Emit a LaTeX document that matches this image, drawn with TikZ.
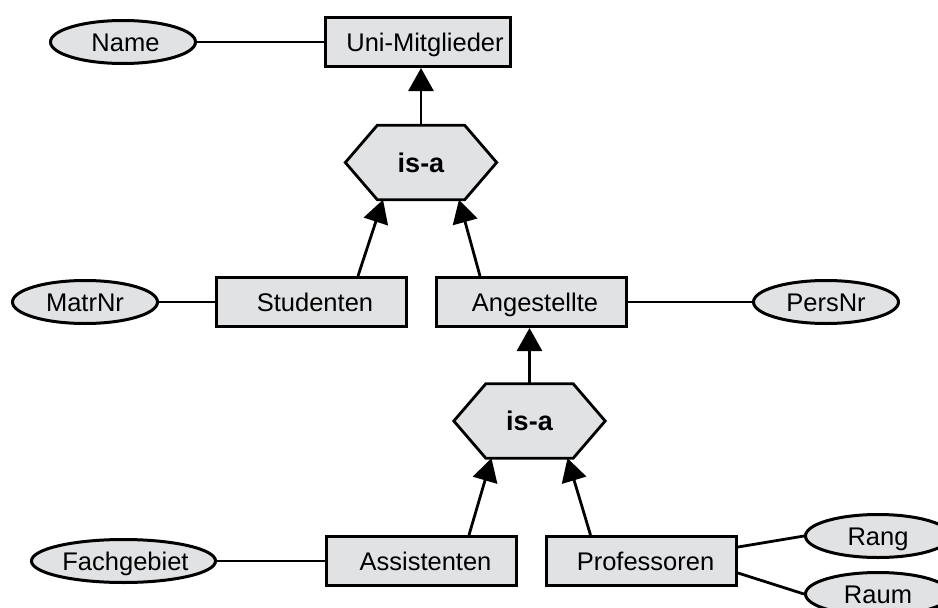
\documentclass[tikz,border=0pt]{standalone}
\usepackage{fontspec}
\setmainfont{Liberation Sans}
\usetikzlibrary{shapes.geometric,arrows.meta}
\pgfdeclarelayer{background}
\pgfsetlayers{background,main}
\definecolor{boxgray}{RGB}{225,226,228}
\tikzset{
  labelfont/.style={font=\fontsize{25.5}{30}\selectfont, text height=18.3pt, text depth=0pt},
  entity/.style={draw, fill=boxgray, line width=3pt, minimum width=190pt,
    minimum height=49pt, inner sep=0pt, labelfont},
  attr/.style={ellipse, draw, fill=boxgray, line width=3pt,
    minimum width=145pt, minimum height=43pt, inner sep=0pt, labelfont},
  isa/.style={minimum width=151pt, minimum height=74pt, inner sep=0pt,
    font=\bfseries\fontsize{27}{32}\selectfont, text height=19.4pt, text depth=0pt},
  hexline/.style={draw, fill=boxgray, line width=2.8pt, line join=miter},
  link/.style={line width=2.8pt},
  gen/.style={line width=2.8pt, -{Triangle[length=23pt,width=25pt]}},
}
% hexagonal outline behind an is-a node
\newcommand\isahex[1]{%
  \begin{pgfonlayer}{background}
    \path[hexline] ([xshift=32pt]#1.north west) -- ([xshift=-32pt]#1.north east)
      -- (#1.east) -- ([xshift=-32pt]#1.south east)
      -- ([xshift=32pt]#1.south west) -- (#1.west) -- cycle;
  \end{pgfonlayer}}
\begin{document}
\begin{tikzpicture}[x=1pt, y=-1pt]
\useasboundingbox (0,0) rectangle (938,608);
\clip (0,0) rectangle (938,608);

% entities
\node[entity, minimum width=185pt] (uni) at (418,42) {\hspace*{14pt}Uni-Mitglieder};
\node[entity] (stud) at (311,302) {\hspace*{8pt}Studenten};
\node[entity] (ang)  at (531,302) {\hspace*{8pt}Angestellte};
\node[entity] (assi) at (421.5,561) {\hspace*{8pt}Assistenten};
\node[entity] (prof) at (641.5,561) {\hspace*{8pt}Professoren};

% attributes
\node[attr] (name) at (123,42)    {\hspace*{5pt}Name};
\node[attr] (matr) at (85,302)    {MatrNr};
\node[attr] (pers) at (826,302)   {PersNr};
\node[attr] (fach) at (123.5,561) {\hspace*{4pt}Fachgebiet};
\node[attr] (rang) at (878,536)   {Rang};
\node[attr] (raum) at (878,594)   {Raum};

% generalisations
\node[isa] (isa1) at (421,162.5) {is-a};
\isahex{isa1}
\node[isa] (isa2) at (529.5,421) {is-a};
\isahex{isa2}

% attribute links
\draw[link] (name.east) -- (uni.west);
\draw[link] (matr.east) -- (stud.west);
\draw[link] (ang.east) -- (pers.west);
\draw[link] (fach.east) -- (assi.west);
\draw[link] ([yshift=14pt]prof.east) -- (rang.west);
\draw[link] ([yshift=-12pt]prof.east) -- (raum.west);

% is-a arrows
\draw[gen] (isa1.north) -- (isa1.north |- uni.south);
\draw[gen] ([xshift=47pt]stud.north) -- ([xshift=-38pt]isa1.south);
\draw[gen] ([xshift=-51pt]ang.north) -- ([xshift=38pt]isa1.south);
\draw[gen] (isa2.north) -- (isa2.north |- ang.south);
\draw[gen] ([xshift=47.5pt]assi.north) -- ([xshift=-38pt]isa2.south);
\draw[gen] ([xshift=-51pt]prof.north) -- ([xshift=38pt]isa2.south);
\end{tikzpicture}
\end{document}
